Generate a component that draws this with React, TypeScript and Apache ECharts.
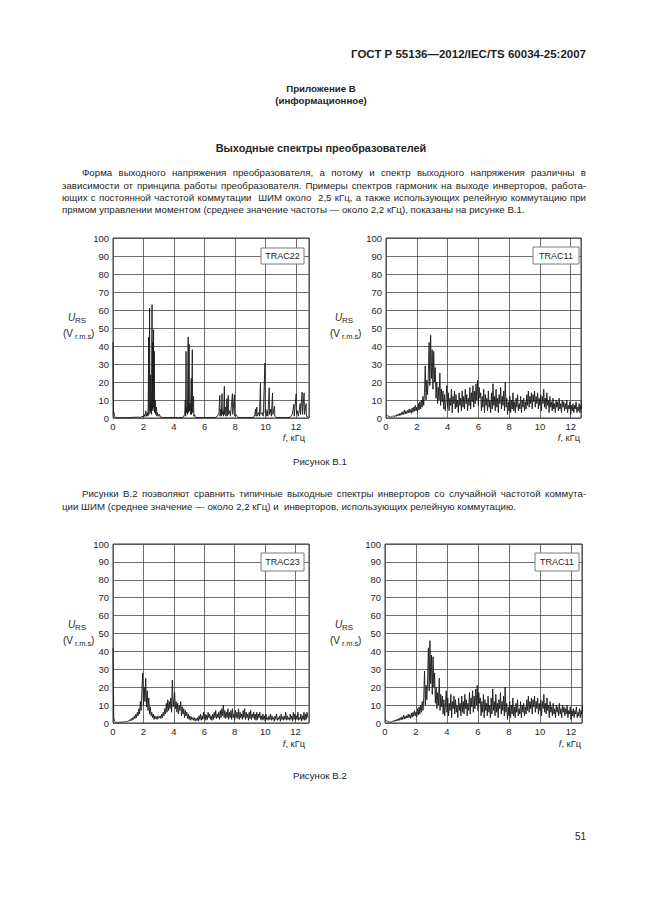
import React, { useEffect, useRef } from "react";
import * as echarts from "echarts";

const FONT = '"Liberation Sans", Arial, Helvetica, sans-serif';
const INK = "#262626";

// Frequency axis ticks (kHz) and voltage axis range
const xTickStep = 2;
const yMin = 0;
const yMax = 100;
const yTickStep = 10;

// TRAC22: discrete harmonic lines [f kHz, U V]
const trac22Points: [number, number][] = [
  [0, 42], [0.02, 14], [0.04, 2], [0.06, 3], [0.1, 1], [0.15, 0.3], [0.3, 0.2], [1.0, 0.2],
  [1.6, 0.5], [1.8, 0.3], [1.9, 1], [2.0, 0.5], [2.05, 2], [2.1, 0.8], [2.15, 4], [2.2, 1],
  [2.25, 3], [2.3, 1], [2.34, 45], [2.36, 2], [2.4, 61], [2.42, 4], [2.45, 24], [2.47, 3],
  [2.5, 8], [2.52, 2], [2.56, 63], [2.58, 5], [2.6, 42], [2.62, 4], [2.66, 49], [2.68, 6],
  [2.71, 37], [2.73, 3], [2.77, 10], [2.8, 2], [2.85, 6], [2.88, 1], [2.92, 3], [2.98, 1],
  [3.05, 2], [3.1, 0.5], [3.3, 0.3], [4.6, 0.3], [4.7, 2], [4.74, 10], [4.76, 1], [4.79, 37],
  [4.81, 3], [4.86, 6], [4.88, 2], [4.93, 45], [4.95, 3], [4.99, 41], [5.01, 4], [5.05, 8],
  [5.08, 2], [5.13, 22], [5.15, 2], [5.2, 38], [5.22, 3], [5.28, 12], [5.3, 1], [5.35, 2],
  [5.4, 0.3], [6.7, 0.3], [6.85, 1], [6.95, 3], [7.0, 12.6], [7.02, 1], [7.08, 5], [7.1, 1],
  [7.15, 13.5], [7.17, 2], [7.22, 4], [7.25, 1], [7.3, 17.6], [7.32, 2], [7.38, 6], [7.4, 1],
  [7.47, 10.7], [7.49, 1], [7.56, 12.6], [7.58, 2], [7.65, 4], [7.7, 1], [7.83, 13.5], [7.85, 2],
  [7.96, 13], [7.98, 1], [8.05, 2], [8.2, 0.3], [9.2, 0.3], [9.3, 2], [9.35, 5], [9.37, 1],
  [9.43, 6], [9.45, 1], [9.55, 3], [9.6, 1], [9.67, 19.4], [9.69, 2], [9.8, 3], [9.85, 1],
  [9.96, 30.5], [9.98, 3], [10.02, 5], [10.05, 1], [10.12, 4], [10.15, 1], [10.24, 16.8], [10.26, 2],
  [10.35, 5], [10.38, 1], [10.46, 13.9], [10.48, 2], [10.59, 6.5], [10.61, 1], [10.7, 0.3], [11.6, 0.3],
  [11.75, 2], [11.86, 7.6], [11.88, 1], [12.01, 13.5], [12.03, 2], [12.1, 4], [12.15, 1], [12.27, 8],
  [12.29, 2], [12.4, 14.4], [12.42, 2], [12.53, 13.9], [12.55, 2], [12.66, 8], [12.68, 1], [12.8, 0.5],
];

// Dense spectra sampled every FREQ_STEP kHz from 0 to 12.8 kHz
const FREQ_STEP = 0.05;
const trac11Values = [
  2, 1.6, 1.2, 1, 0.8, 0.6, 0.5, 0.6, 0.5, 0.8, 1.2,
  0.7, 1.5, 0.9, 1.8, 1.1, 2.2, 1.3, 2.6, 1.5, 3,
  1.8, 3.5, 2, 4.5, 2.2, 3.8, 2.5, 4.2, 2.8, 5,
  3, 4.6, 2.6, 5.5, 3.2, 6, 3.8, 7, 4, 6,
  3.5, 8, 4.5, 9, 5, 10, 6, 12, 7, 14,
  29, 10, 21, 13, 24, 42, 18, 46, 22, 38,
  16, 37, 20, 28, 11, 20, 8, 17, 10, 25,
  7, 16, 9, 15, 5, 13, 4, 10, 18, 6,
  14, 4, 11, 7, 16, 3, 12, 8, 15, 5,
  13, 6, 10, 3, 14, 7, 11, 4, 15, 6,
  12, 5, 16, 8, 13, 4, 11, 7, 17, 5,
  14, 9, 18, 6, 15, 8, 19, 10, 21, 7,
  17, 11, 14, 4, 12, 6, 16, 3, 13, 7,
  11, 4, 15, 6, 10, 3, 14, 5, 19, 7,
  12, 4, 16, 6, 11, 3, 13, 8, 17, 5,
  12, 7, 15, 4, 20, 6, 11, 2, 9, 4,
  12, 3, 10, 5, 14, 4, 9, 3, 11, 6,
  13, 4, 8, 5, 12, 3, 10, 6, 11, 4,
  9, 5, 13, 7, 15, 6, 12, 8, 14, 5,
  13, 9, 15, 6, 12, 8, 14, 5, 11, 7,
  13, 4, 12, 8, 16, 6, 11, 5, 14, 7,
  10, 3, 12, 6, 9, 4, 11, 5, 8, 3,
  10, 6, 9, 4, 11, 5, 8, 3, 10, 6,
  9, 4, 8, 5, 10, 3, 7, 5, 9, 2,
  7, 4, 8, 3, 7, 5, 9, 3, 6, 4,
  8, 3, 7, 5, 10, 6,
];
const trac23Values = [
  42, 3, 1, 0.6, 0.4,
  0.3, 0.4, 0.3, 0.5, 0.4, 0.5, 0.4, 0.6, 0.5, 0.7, 0.6, 0.8, 0.7, 1, 0.8, 1.2,
  1, 1.8, 1.2, 2.5, 1.5, 3, 2, 4, 2.5, 5, 3, 6,
  4, 8, 5, 12, 7, 18, 28, 10, 20, 12, 25, 9, 18, 7, 14, 5, 9, 4,
  6, 3, 5, 2, 4, 2.5, 3.5, 2, 4, 2.5, 3, 4, 2.5, 5, 3, 6,
  4, 8, 5, 11, 6, 13, 7, 12, 8, 14, 6, 24, 9, 13, 17, 8, 12, 6, 11, 5, 10, 7, 12, 4, 9, 5, 8, 3, 7, 4,
  6, 2.5, 5, 2, 4, 1.5, 3.5, 2, 3, 1.5, 3, 1, 2.5, 1.5,
  3, 1, 4, 2, 5, 1.5, 4, 2, 6, 2.5, 5, 1.5, 4.5, 2, 6, 3, 5, 2, 4, 1.5,
  5, 2, 6, 3, 7, 2.5, 5, 3, 6, 2, 7, 3, 8, 4, 10, 3, 7, 2.5, 6, 3,
  8, 2, 6, 3, 7, 2, 8, 3, 5, 2, 7, 3, 6, 2.5, 8, 2, 6, 3, 5, 2,
  7, 3, 8, 2, 6, 3, 5, 1.5, 6, 2.5, 7, 2, 5, 3, 6, 2, 5, 1.5, 6, 2,
  5, 3, 6, 2, 4, 1.5, 5, 2, 4, 1, 5, 2, 3, 1.5, 4, 2, 5, 1.5, 4, 2,
  3, 1, 4, 2, 5, 1.5, 3, 2, 4, 1, 5, 2, 3.5, 1.5, 4, 2, 6, 1.5, 4, 2,
  3, 1.5, 5, 2, 4, 1, 6, 2, 5, 1.5, 4, 2, 6, 1.5, 3, 2, 5, 1, 4, 2,
  6, 1.5, 5, 2, 6, 3,
];

const panelNames = ["TRAC22", "TRAC11", "TRAC23", "TRAC11"];

// Page texts
const headerText = "ГОСТ Р 55136\u20142012/IEC/TS 60034-25:2007";
const annexTitle = "Приложение В";
const annexKind = "(информационное)";
const sectionTitle = "Выходные спектры преобразователей";
const para1 = [
  "Форма выходного напряжения преобразователя, а потому и спектр выходного напряжения различны в",
  "зависимости от принципа работы преобразователя. Примеры спектров гармоник на выходе инверторов, работа-",
  "ющих с постоянной частотой коммутации  ШИМ около  2,5 кГц, а также использующих релейную коммутацию при",
  "прямом управлении моментом (среднее значение частоты \u2014 около 2,2 кГц), показаны на рисунке В.1.",
];
const para2 = [
  "Рисунки В.2 позволяют сравнить типичные выходные спектры инверторов со случайной частотой коммута-",
  "ции ШИМ (среднее значение \u2014 около 2,2 кГц) и  инверторов, использующих релейную коммутацию.",
];
const fig1Caption = "Рисунок В.1";
const fig2Caption = "Рисунок В.2";
const pageNumber = "51";

// Layout (positions only)
const grids = [
  { left: 113, top: 238, width: 196, height: 180 },
  { left: 386, top: 238, width: 195, height: 180 },
  { left: 113, top: 544, width: 196, height: 179 },
  { left: 385, top: 544, width: 197, height: 179 },
];
const xMaxes = [12.85, 12.67, 12.88, 12.71];
const yLabelAnchors = [
  [63, 317],
  [330, 317],
  [63, 624],
  [330, 624],
];
const fLabelPos = [
  [305, 438],
  [580, 438],
  [305, 744],
  [581, 744],
];
const boxPos = [
  [261, 248, 43, 16],
  [533, 247, 46, 17],
  [261, 553, 43, 18],
  [535, 553, 44, 18],
];
const PARA_SIZE = 9.7;
const TEXT_RIGHT = 586;

function txt(x: number, y: number, text: string, opts: any = {}) {
  return {
    type: "text",
    x,
    y,
    z: 10,
    silent: true,
    style: {
      text,
      fill: INK,
      fontFamily: FONT,
      fontSize: 10,
      align: "left",
      verticalAlign: "middle",
      ...opts,
    },
  };
}

let measureCtx: CanvasRenderingContext2D | null = null;
function measure(s: string, size: number): number {
  if (!measureCtx) measureCtx = document.createElement("canvas").getContext("2d");
  if (!measureCtx) return s.length * size * 0.5;
  measureCtx.font = `${size}px ${FONT}`;
  return measureCtx.measureText(s).width;
}

// Lay out one justified line word by word between x0 and x1
function justifiedLine(line: string, x0: number, x1: number, y: number, size: number) {
  const parts = line.split(/( +)/);
  const words: string[] = [];
  const gaps: number[] = [];
  parts.forEach((p, i) => {
    if (i % 2 === 0) words.push(p);
    else gaps.push(p.length);
  });
  const widths = words.map((w) => measure(w, size));
  const totalW = widths.reduce((a, b) => a + b, 0);
  const totalGapUnits = gaps.reduce((a, b) => a + b, 0);
  const unit = totalGapUnits > 0 ? (x1 - x0 - totalW) / totalGapUnits : 0;
  const els: any[] = [];
  let x = x0;
  words.forEach((w, i) => {
    els.push(txt(x, y, w, { fontSize: size }));
    x += widths[i] + (i < gaps.length ? gaps[i] * unit : 0);
  });
  return els;
}

function paragraph(lines: string[], ys: number[]) {
  const els: any[] = [];
  lines.forEach((line, i) => {
    const x0 = i === 0 ? 82 : 62;
    if (i === lines.length - 1) els.push(txt(x0, ys[i], line, { fontSize: PARA_SIZE }));
    else els.push(...justifiedLine(line, x0, TEXT_RIGHT, ys[i], PARA_SIZE));
  });
  return els;
}

export default function App() {
  const ref = useRef<HTMLDivElement>(null);

  useEffect(() => {
    if (!ref.current) return;
    const chart = echarts.init(ref.current, undefined, { renderer: "svg" });

    const seriesData = [
      trac22Points,
      trac11Values.map((v, i) => [+(i * FREQ_STEP).toFixed(2), v]),
      trac23Values.map((v, i) => [+(i * FREQ_STEP).toFixed(2), v]),
      trac11Values.map((v, i) => [+(i * FREQ_STEP).toFixed(2), v]),
    ];

    const graphic: any[] = [];
    graphic.push(txt(586, 54, headerText, { align: "right", fontSize: 11.5, fontWeight: "bold", fill: "#1e1e1e" }));
    graphic.push(txt(321, 88, annexTitle, { align: "center", fontSize: 9.7, fontWeight: "bold" }));
    graphic.push(txt(321, 100, annexKind, { align: "center", fontSize: 9.7, fontWeight: "bold" }));
    graphic.push(txt(321, 148, sectionTitle, { align: "center", fontSize: 10.9, fontWeight: "bold" }));
    graphic.push(...paragraph(para1, [172, 185, 197, 209]));
    graphic.push(...paragraph(para2, [493, 506]));
    graphic.push(txt(293, 461, fig1Caption, { fontSize: 9.7 }));
    graphic.push(txt(293, 775, fig2Caption, { fontSize: 9.7 }));
    graphic.push(txt(586, 836, pageNumber, { align: "right", fontSize: 10 }));

    for (let k = 0; k < 4; k++) {
      const [ax, ay] = yLabelAnchors[k];
      graphic.push(txt(ax + 5, ay, "U", { fontStyle: "italic", fontSize: 10 }));
      graphic.push(txt(ax + 12, ay + 3, "RS", { fontSize: 8 }));
      graphic.push(txt(ax, ay + 16, "(V", { fontSize: 10 }));
      graphic.push(txt(ax + 12, ay + 19, "r.m.s", { fontSize: 7.5 }));
      graphic.push(txt(ax + 28, ay + 16, ")", { fontSize: 10 }));
      const [fx, fy] = fLabelPos[k];
      graphic.push(
        txt(fx, fy, "{i|f}{n|, кГц}", {
          align: "right",
          fontSize: 9.3,
          rich: {
            i: { fontStyle: "italic", fontSize: 9.3, fontFamily: FONT, fill: INK },
            n: { fontSize: 9.3, fontFamily: FONT, fill: INK },
          },
        })
      );
      const [bx, by, bw, bh] = boxPos[k];
      graphic.push({
        type: "rect",
        z: 10,
        silent: true,
        shape: { x: bx, y: by, width: bw, height: bh },
        style: { fill: "#fff", stroke: "#7a7a7a", lineWidth: 1 },
      });
      graphic.push(txt(bx + bw / 2, by + bh / 2, panelNames[k], { align: "center", fontSize: 9 }));
    }

    const option: any = {
      animation: false,
      backgroundColor: "#ffffff",
      grid: grids.map((g) => ({
        ...g,
        show: true,
        borderColor: "#333",
        borderWidth: 1,
        backgroundColor: "transparent",
        containLabel: false,
      })),
      xAxis: grids.map((_, k) => ({
        type: "value",
        gridIndex: k,
        min: 0,
        max: xMaxes[k],
        interval: xTickStep,
        axisLine: { show: false },
        axisTick: { show: false },
        splitLine: { show: true, lineStyle: { color: "#4a4a4a", width: 0.8 } },
        axisLabel: {
          fontSize: 9.5,
          color: INK,
          fontFamily: FONT,
          margin: 3,
          formatter: (v: number) => (Math.abs(v % xTickStep) < 1e-6 ? String(v) : ""),
        },
      })),
      yAxis: grids.map((_, k) => ({
        type: "value",
        gridIndex: k,
        min: yMin,
        max: yMax,
        interval: yTickStep,
        axisLine: { show: false },
        axisTick: { show: false },
        splitLine: { show: true, lineStyle: { color: "#4a4a4a", width: 0.8 } },
        axisLabel: { fontSize: 9.5, color: INK, fontFamily: FONT, margin: 4 },
      })),
      series: seriesData.map((d, k) => ({
        type: "line",
        xAxisIndex: k,
        yAxisIndex: k,
        data: d,
        symbol: "none",
        showSymbol: false,
        clip: true,
        lineStyle: { color: "#1a1a1a", width: 0.9 },
        z: 3,
      })),
      graphic,
    };

    chart.setOption(option);
    return () => chart.dispose();
  }, []);

  return (
    <div
      ref={ref}
      style={{ position: "absolute", left: 0, top: 0, width: 646, height: 913, background: "#fff" }}
    />
  );
}
